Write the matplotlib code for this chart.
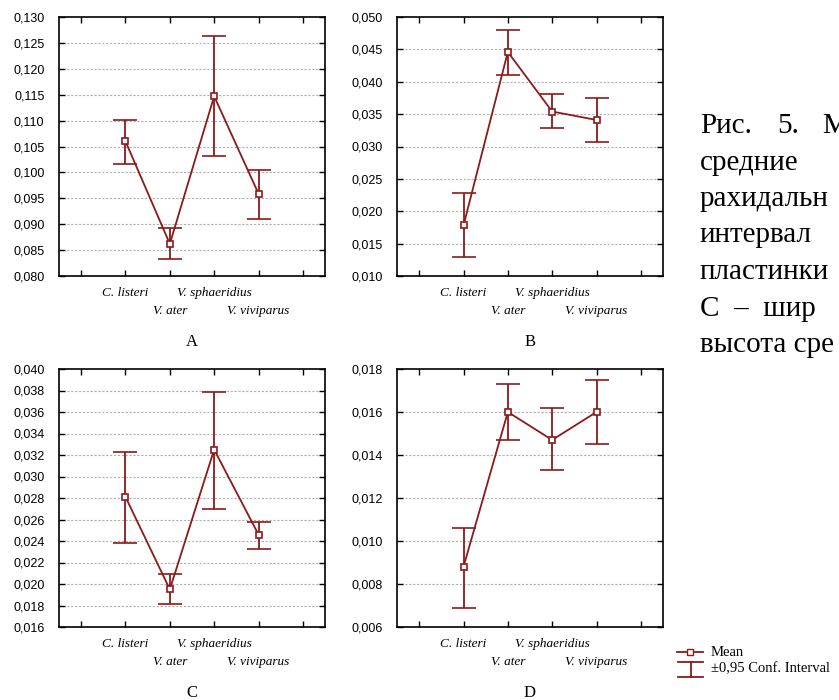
import matplotlib
matplotlib.use("Agg")
import matplotlib.pyplot as plt
from matplotlib.lines import Line2D
import numpy as np

species = ["C. listeri", "V. ater", "V. sphaeridius", "V. viviparus"]

# mean and 95% CI bounds
a_mean = [0.1060, 0.0862, 0.1147, 0.0959]
a_low = [0.1017, 0.0833, 0.1031, 0.0911]
a_high = [0.1102, 0.0892, 0.1264, 0.1005]

b_mean = [0.0178, 0.0446, 0.0354, 0.0341]
b_low = [0.0130, 0.0411, 0.0328, 0.0307]
b_high = [0.0228, 0.0480, 0.0381, 0.0375]

c_mean = [0.0281, 0.0195, 0.0325, 0.0246]
c_low = [0.0238, 0.0181, 0.0270, 0.0233]
c_high = [0.0323, 0.0209, 0.0379, 0.0258]

d_mean = [0.0088, 0.0160, 0.0147, 0.0160]
d_low = [0.0069, 0.0147, 0.0133, 0.0145]
d_high = [0.0106, 0.0173, 0.0162, 0.0175]

panels = [
    ("A", a_mean, a_low, a_high, (0.080, 0.130), 0.005),
    ("B", b_mean, b_low, b_high, (0.010, 0.050), 0.005),
    ("C", c_mean, c_low, c_high, (0.016, 0.040), 0.002),
    ("D", d_mean, d_low, d_high, (0.006, 0.018), 0.002),
]

color = "#8b1a1a"
W, H = 839, 700

fig = plt.figure(figsize=(W / 100, H / 100), dpi=100)

# axes boxes in pixels: left, top, right, bottom
boxes = [(59, 17, 325, 276), (397, 17, 663, 276),
         (59, 369, 325, 627), (397, 369, 663, 627)]

for (name, mean, low, high, ylim, step), (l, t, r, b) in zip(panels, boxes):
    ax = fig.add_axes([l / W, 1 - b / H, (r - l) / W, (b - t) / H])
    x = np.arange(1, len(species) + 1)
    mean = np.array(mean)
    err = [mean - np.array(low), np.array(high) - mean]
    ax.errorbar(x, mean, yerr=err, color=color, lw=1.3, elinewidth=1.3,
                capsize=8.5, capthick=1.3, marker="s", markersize=4.2,
                markerfacecolor="white", markeredgecolor=color,
                markeredgewidth=1.2, zorder=3)
    ax.set_xlim(-0.5, 5.5)
    ax.set_ylim(*ylim)
    yt = np.arange(ylim[0], ylim[1] + step / 2, step)
    ax.set_yticks(yt)
    ax.set_yticklabels([f"{v:.3f}".replace(".", ",") for v in yt],
                       fontsize=9, family="Liberation Sans")
    # two staggered label rows: odd categories on major ticks, even on minor
    ax.set_xticks([0, 1, 3, 5])
    ax.set_xticklabels(["", species[0], species[2], ""], fontsize=9.5,
                       family="Liberation Serif", style="italic")
    ax.set_xticks([2, 4], minor=True)
    ax.set_xticklabels([species[1], species[3]], minor=True, fontsize=9.5,
                       family="Liberation Serif", style="italic")
    ax.tick_params(which="both", direction="in", length=4, width=1,
                   top=True, right=True)
    ax.tick_params(axis="y", pad=10.5)
    ax.tick_params(axis="x", which="major", pad=8)
    ax.tick_params(axis="x", which="minor", pad=21)
    for v in yt[1:-1]:
        ax.axhline(v, color="#b0b0b0", lw=0.8, ls=(0, (2, 1.5)), zorder=1)
    for sp in ax.spines.values():
        sp.set_linewidth(1.2)
    cx = (l + r) / 2 / W
    fig.text(cx, 1 - (b + 66) / H, name, ha="center", va="center",
             fontsize=12, family="Liberation Serif")

# caption on the right (cut by the page edge)
cap_font = dict(fontsize=21, family="Liberation Serif", va="baseline")
first = [("Рис.", 700), ("5.", 777), ("М", 822)]
for word, px in first:
    fig.text(px / W, 1 - 133 / H, word, **cap_font)
caption = ["средние", "рахидальн", "интервал", "пластинки",
           "С  –  шир", "высота сре"]
for i, line in enumerate(caption):
    fig.text(700 / W, 1 - (133 + 36.5 * (i + 1)) / H, line, **cap_font)

# legend
ly = 1 - 652 / H
fig.add_artist(Line2D([677 / W, 703 / W], [ly, ly], color=color, lw=1.3,
                      transform=fig.transFigure))
fig.add_artist(Line2D([690 / W], [ly], color=color, marker="s",
                      markersize=5, markerfacecolor="white",
                      markeredgecolor=color, transform=fig.transFigure))
fig.text(711 / W, ly, "Mean", fontsize=10.5, family="Liberation Serif",
         va="center")
y1, y2 = 1 - 662 / H, 1 - 677 / H
for yy in (y1, y2):
    fig.add_artist(Line2D([678 / W, 703 / W], [yy, yy], color=color, lw=1.3,
                          transform=fig.transFigure))
fig.add_artist(Line2D([690.5 / W, 690.5 / W], [y1, y2], color=color, lw=1.3,
                      transform=fig.transFigure))
fig.text(711 / W, 1 - 669 / H, "±0,95 Conf. Interval", fontsize=10.5,
         family="Liberation Serif", va="center")

fig.savefig("out.png", dpi=100)
